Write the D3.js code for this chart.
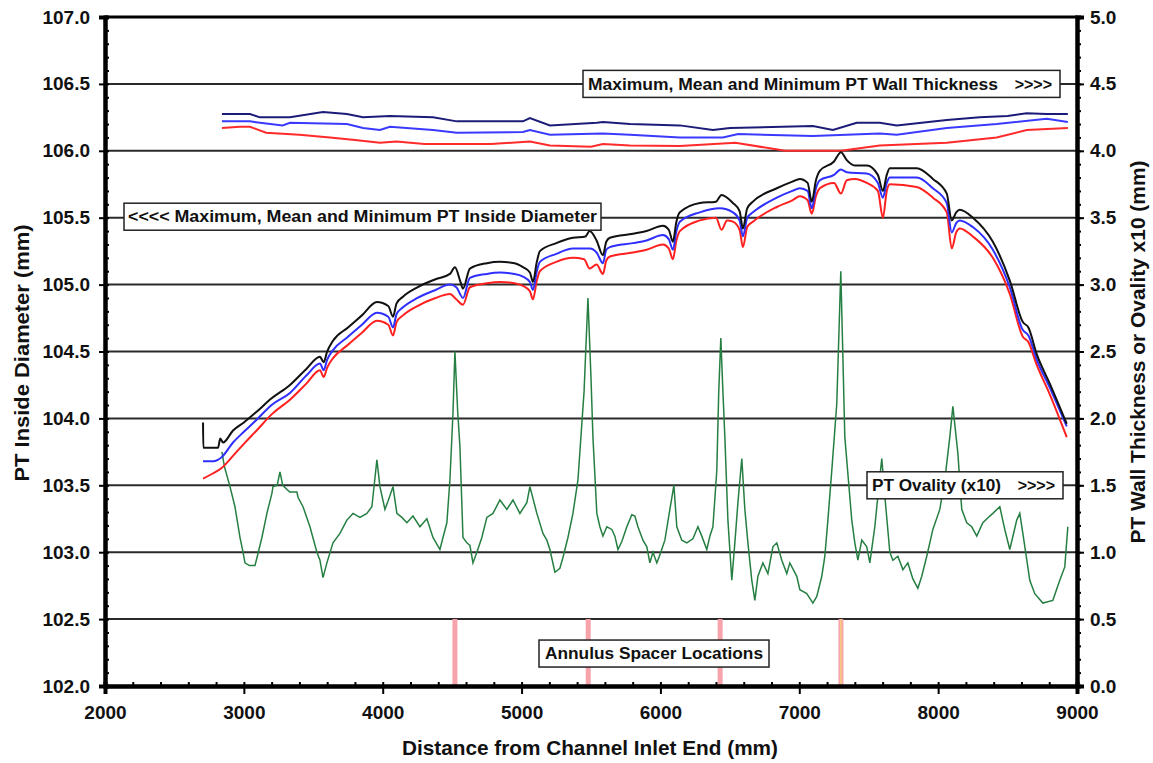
<!DOCTYPE html>
<html>
<head>
<meta charset="utf-8">
<script src="https://cdn.jsdelivr.net/npm/d3@7/dist/d3.min.js"></script>
<style>
  body { margin: 0; background: #fff; }
  svg { display: block; }
  text { font-family: "Liberation Sans", Arial, sans-serif; font-weight: bold; fill: #111; }
</style>
</head>
<body>
<svg id="chart"></svg>
<script>
// --- data (distance mm, value) ---
const xTicks = [2000, 3000, 4000, 5000, 6000, 7000, 8000, 9000];
const leftTicks = [102.0, 102.5, 103.0, 103.5, 104.0, 104.5, 105.0, 105.5, 106.0, 106.5, 107.0];
const rightTicks = [0, 0.5, 1.0, 1.5, 2.0, 2.5, 3.0, 3.5, 4.0, 4.5, 5.0];

// PT inside diameter (left axis)
const idMax = [[2706,103.97],[2708,103.78],[2814,103.78],[2830,103.85],[2850,103.82],[2922,103.91],[3000,103.97],
  [3092,104.05],[3200,104.15],[3332,104.25],[3450,104.37],[3548,104.46],[3575,104.42],[3600,104.50],[3642,104.58],
  [3750,104.68],[3850,104.77],[3958,104.87],[4040,104.84],[4074,104.76],[4100,104.86],[4146,104.91],[4250,104.98],
  [4380,105.04],[4484,105.08],[4520,105.13],[4560,105.02],[4578,104.97],[4628,105.12],[4750,105.16],[4844,105.17],
  [4950,105.16],[5010,105.13],[5060,105.09],[5082,105.02],[5110,105.17],[5132,105.25],[5250,105.31],[5370,105.35],
  [5460,105.36],[5490,105.40],[5540,105.33],[5586,105.22],[5610,105.32],[5636,105.35],[5802,105.38],[5900,105.40],
  [6018,105.44],[6060,105.41],[6090,105.32],[6115,105.47],[6140,105.54],[6284,105.61],[6400,105.62],[6440,105.67],
  [6522,105.61],[6570,105.55],[6594,105.42],[6625,105.57],[6666,105.62],[6838,105.72],[6950,105.77],[7004,105.79],
  [7060,105.76],[7090,105.62],[7120,105.78],[7148,105.85],[7250,105.92],[7300,105.99],[7342,105.93],[7400,105.89],
  [7486,105.89],[7566,105.82],[7602,105.70],[7630,105.82],[7652,105.87],[7846,105.87],[7962,105.79],[8062,105.68],
  [8098,105.48],[8130,105.54],[8156,105.56],[8250,105.50],[8394,105.32],[8516,105.03],[8610,104.72],[8650,104.68],
  [8710,104.48],[8804,104.26],[8926,103.96]];

const idMean = [[2706,103.68],[2780,103.68],[2840,103.71],[2922,103.82],[3000,103.90],[3092,103.99],[3200,104.10],
  [3332,104.19],[3450,104.32],[3548,104.41],[3575,104.36],[3600,104.44],[3642,104.51],[3750,104.61],[3850,104.70],
  [3958,104.79],[4040,104.76],[4074,104.68],[4100,104.78],[4146,104.83],[4250,104.90],[4380,104.96],[4484,105.00],
  [4530,104.98],[4578,104.90],[4628,105.05],[4750,105.08],[4844,105.09],[4950,105.08],[5010,105.06],[5060,105.02],
  [5082,104.96],[5110,105.10],[5132,105.17],[5250,105.23],[5370,105.27],[5492,105.27],[5540,105.24],[5586,105.16],
  [5610,105.26],[5636,105.28],[5802,105.31],[5900,105.33],[6018,105.37],[6060,105.34],[6090,105.26],[6115,105.40],
  [6140,105.47],[6284,105.54],[6428,105.57],[6522,105.54],[6570,105.48],[6594,105.36],[6625,105.50],[6666,105.54],
  [6838,105.65],[6950,105.70],[7004,105.72],[7060,105.70],[7090,105.57],[7120,105.72],[7148,105.78],[7250,105.82],
  [7300,105.86],[7342,105.84],[7486,105.83],[7566,105.76],[7602,105.65],[7630,105.76],[7652,105.80],[7846,105.80],
  [7962,105.72],[8062,105.61],[8098,105.39],[8130,105.46],[8156,105.48],[8250,105.43],[8394,105.26],[8516,104.98],
  [8610,104.66],[8650,104.62],[8710,104.44],[8804,104.23],[8926,103.94]];

const idMin = [[2706,103.55],[2780,103.59],[2840,103.63],[2922,103.72],[3000,103.81],[3092,103.91],[3200,104.03],
  [3332,104.14],[3450,104.26],[3548,104.36],[3575,104.31],[3600,104.38],[3642,104.45],[3750,104.55],[3850,104.64],
  [3958,104.73],[4040,104.70],[4074,104.62],[4100,104.72],[4146,104.77],[4250,104.84],[4380,104.90],[4484,104.93],
  [4530,104.89],[4578,104.85],[4628,104.98],[4750,105.01],[4844,105.02],[4950,105.01],[5010,104.99],[5060,104.95],
  [5082,104.89],[5110,105.03],[5132,105.10],[5250,105.17],[5370,105.20],[5450,105.19],[5490,105.12],[5540,105.15],
  [5586,105.08],[5610,105.18],[5636,105.21],[5802,105.24],[5900,105.26],[6018,105.30],[6060,105.27],[6090,105.19],
  [6115,105.33],[6140,105.40],[6284,105.48],[6400,105.50],[6440,105.41],[6480,105.48],[6522,105.47],[6570,105.41],
  [6594,105.28],[6625,105.43],[6666,105.47],[6838,105.58],[6950,105.63],[7004,105.66],[7060,105.63],[7090,105.53],
  [7120,105.66],[7148,105.72],[7250,105.76],[7300,105.68],[7342,105.78],[7400,105.79],[7486,105.76],[7566,105.70],
  [7602,105.50],[7630,105.70],[7652,105.75],[7846,105.73],[7962,105.65],[8062,105.54],[8098,105.27],[8130,105.39],
  [8156,105.42],[8250,105.36],[8394,105.20],[8516,104.93],[8610,104.61],[8650,104.57],[8710,104.40],[8804,104.18],
  [8926,103.86]];

// PT wall thickness (right axis)
const wtMax = [[2842,4.275],[3044,4.275],[3116,4.25],[3332,4.25],[3570,4.29],[3742,4.275],[3858,4.25],[4052,4.26],
  [4362,4.25],[4534,4.22],[5010,4.22],[5060,4.245],[5204,4.19],[5542,4.21],[5586,4.215],[5780,4.20],[6140,4.19],
  [6378,4.155],[6500,4.17],[7098,4.185],[7242,4.155],[7414,4.21],[7580,4.21],[7702,4.19],[8062,4.23],[8300,4.25],
  [8500,4.26],[8638,4.28],[8782,4.275],[8934,4.275]];
const wtMean = [[2842,4.22],[3044,4.22],[3116,4.21],[3280,4.19],[3332,4.21],[3742,4.20],[3858,4.17],[3980,4.155],
  [4052,4.18],[4362,4.155],[4534,4.135],[5010,4.14],[5060,4.155],[5204,4.12],[5586,4.13],[5780,4.12],[6140,4.10],
  [6450,4.10],[6560,4.125],[7098,4.11],[7580,4.13],[7702,4.12],[8062,4.17],[8422,4.20],[8782,4.24],[8934,4.215]];
const wtMin = [[2842,4.17],[2970,4.18],[3044,4.18],[3160,4.135],[3400,4.12],[3620,4.10],[3800,4.08],[3980,4.06],
  [4100,4.07],[4300,4.05],[4780,4.05],[5060,4.07],[5204,4.04],[5500,4.03],[5586,4.05],[5780,4.04],[6140,4.035],
  [6540,4.06],[6900,4.00],[7300,4.00],[7580,4.04],[8062,4.06],[8422,4.10],[8638,4.155],[8934,4.17]];

// PT ovality x10 (right axis)
const ovality = [[2842,1.75],[2860,1.64],[2900,1.49],[2936,1.34],[2972,1.11],[2994,1.0],[3008,0.92],[3040,0.9],
  [3080,0.9],[3102,0.99],[3130,1.11],[3166,1.29],[3202,1.44],[3210,1.49],[3240,1.5],[3260,1.6],[3280,1.5],
  [3330,1.45],[3382,1.45],[3390,1.41],[3426,1.34],[3476,1.19],[3526,1.0],[3548,0.94],[3570,0.81],[3598,0.92],
  [3642,1.07],[3692,1.14],[3742,1.24],[3786,1.29],[3836,1.26],[3886,1.29],[3922,1.34],[3958,1.69],[3980,1.49],
  [4016,1.32],[4038,1.38],[4074,1.49],[4102,1.29],[4138,1.26],[4174,1.22],[4218,1.27],[4268,1.19],[4318,1.25],
  [4362,1.11],[4412,1.02],[4434,1.11],[4462,1.22],[4484,1.54],[4506,2.04],[4520,2.50],[4540,2.05],[4556,1.79],
  [4578,1.11],[4606,1.07],[4628,1.05],[4650,0.92],[4678,1.0],[4714,1.11],[4750,1.26],[4794,1.29],[4844,1.39],
  [4894,1.32],[4938,1.39],[4988,1.29],[5038,1.37],[5060,1.49],[5110,1.29],[5154,1.14],[5182,1.09],[5204,1.02],
  [5240,0.85],[5276,0.88],[5298,0.96],[5334,1.11],[5370,1.29],[5406,1.54],[5450,2.2],[5478,2.90],[5500,2.3],
  [5514,1.86],[5542,1.29],[5564,1.19],[5586,1.12],[5614,1.19],[5650,1.17],[5672,1.12],[5694,1.02],[5722,1.08],
  [5758,1.19],[5794,1.28],[5816,1.27],[5838,1.19],[5874,1.09],[5902,1.04],[5924,0.92],[5946,1.0],[5974,0.92],
  [5996,0.98],[6032,1.09],[6068,1.32],[6097,1.50],[6118,1.19],[6154,1.09],[6190,1.07],[6234,1.10],[6270,1.19],
  [6298,1.12],[6334,1.02],[6356,1.12],[6378,1.19],[6406,1.61],[6420,2.2],[6435,2.60],[6450,2.2],[6464,1.86],
  [6486,1.24],[6514,0.79],[6536,1.07],[6558,1.37],[6586,1.70],[6608,1.32],[6630,1.07],[6658,0.79],[6680,0.64],
  [6702,0.82],[6738,0.92],[6774,0.84],[6810,1.04],[6838,1.07],[6874,0.94],[6910,0.84],[6932,0.92],[6982,0.82],
  [7004,0.72],[7054,0.69],[7098,0.62],[7126,0.67],[7162,0.82],[7184,0.97],[7206,1.24],[7234,1.61],[7270,2.11],
  [7299,3.10],[7328,1.86],[7378,1.24],[7400,1.07],[7422,0.94],[7450,1.09],[7486,1.04],[7508,0.92],[7544,1.19],
  [7566,1.42],[7594,1.70],[7616,1.42],[7652,1.0],[7674,0.94],[7710,0.97],[7746,0.87],[7782,0.92],[7818,0.80],
  [7854,0.73],[7882,0.82],[7918,0.97],[7962,1.17],[8012,1.32],[8048,1.54],[8084,1.86],[8106,2.09],[8142,1.74],
  [8170,1.32],[8206,1.22],[8242,1.19],[8278,1.12],[8322,1.22],[8372,1.27],[8394,1.29],[8444,1.34],[8480,1.17],
  [8516,1.02],[8566,1.24],[8588,1.29],[8610,1.14],[8660,0.79],[8696,0.69],[8754,0.62],[8826,0.64],[8876,0.79],
  [8912,0.89],[8934,1.19]];

// annulus spacer locations (mm)
const spacers = [4520, 5480, 6430, 7300];
const spacerCore = ['#f7a3ab', '#f7a3ab', '#f7a3ab', '#f6cf7a'];

// --- layout ---
const W = 1153, H = 763;
const margin = { top: 17, right: 76, bottom: 77, left: 105 };
const width = W - margin.left - margin.right;
const height = H - margin.top - margin.bottom;

const svg = d3.select('#chart').attr('width', W).attr('height', H);
const g = svg.append('g').attr('transform', `translate(${margin.left},${margin.top})`);

const x = d3.scaleLinear().domain([2000, 9000]).range([0, width]);
const yL = d3.scaleLinear().domain([102, 107]).range([height, 0]);
const yR = d3.scaleLinear().domain([0, 5]).range([height, 0]);

// horizontal grid lines at each major tick
g.selectAll('.grid')
  .data(leftTicks.filter(d => d > 102))
  .enter().append('line')
  .attr('x1', 0).attr('x2', width)
  .attr('y1', d => yL(d)).attr('y2', d => yL(d))
  .attr('stroke', '#2a2a2a').attr('stroke-width', 2);

// spacer markers
g.selectAll('.spacer')
  .data(spacers)
  .enter().append('rect')
  .attr('x', d => x(d) - 2.5)
  .attr('y', yL(102.5))
  .attr('width', 5)
  .attr('height', yL(102) - yL(102.5))
  .attr('fill', '#f7a3ab');
g.selectAll('.spacer-core')
  .data(spacers)
  .enter().append('rect')
  .attr('x', d => x(d) - 0.75)
  .attr('y', yL(102.5))
  .attr('width', 1.5)
  .attr('height', yL(102) - yL(102.5))
  .attr('fill', (d, i) => spacerCore[i]);

const lineL = d3.line().x(d => x(d[0])).y(d => yL(d[1])).curve(d3.curveMonotoneX);
const lineR = d3.line().x(d => x(d[0])).y(d => yR(d[1]));

// ovality first so diameters sit on top
g.append('path').datum(ovality)
  .attr('d', lineR).attr('fill', 'none')
  .attr('stroke', '#267f42').attr('stroke-width', 1.5)
  .attr('stroke-linejoin', 'miter');

[[wtMin, '#ff2a2a'], [wtMean, '#3a3aff'], [wtMax, '#1c1c78']].forEach(([data, color]) => {
  g.append('path').datum(data)
    .attr('d', lineR).attr('fill', 'none')
    .attr('stroke', color).attr('stroke-width', 2);
});

[[idMin, '#ff2020'], [idMean, '#2f2fff'], [idMax, '#111']].forEach(([data, color]) => {
  g.append('path').datum(data)
    .attr('d', lineL).attr('fill', 'none')
    .attr('stroke', color).attr('stroke-width', 2)
    .attr('stroke-linejoin', 'round');
});

// annotation boxes
const boxes = [
  { text: 'Maximum, Mean and Minimum PT Wall Thickness', tail: '>>>>', x: 478, y: yL(106.5), w: 477, len: 410 },
  { text: '<<<<  Maximum, Mean and Minimum PT Inside Diameter', tail: '', x: 19, y: yL(105.5) - 1, w: 477, len: 469 },
  { text: 'PT Ovality (x10)', tail: '>>>>', x: 762, y: yR(1.5), w: 196, len: 129 },
  { text: 'Annulus Spacer Locations', tail: '', x: 434, y: yL(102.25) + 1, w: 230, len: 218 }
];
boxes.forEach(b => {
  const bg = g.append('g').attr('transform', `translate(${b.x},${b.y})`);
  bg.append('rect')
    .attr('x', 0).attr('y', -13.5).attr('width', b.w).attr('height', 27)
    .attr('fill', '#fff').attr('stroke', '#222').attr('stroke-width', 1.5);
  const pad = b.tail ? 5 : (b.w - b.len) / 2;
  bg.append('text')
    .attr('x', pad).attr('y', 0).attr('dy', '0.36em')
    .attr('textLength', b.len).attr('lengthAdjust', 'spacingAndGlyphs')
    .style('font-size', '16px')
    .text(b.text);
  if (b.tail) {
    bg.append('text')
      .attr('x', b.w - 8).attr('y', 0).attr('dy', '0.36em')
      .attr('text-anchor', 'end')
      .style('font-size', '16px')
      .text(b.tail);
  }
});

// axes
const fmt = d3.format('.1f');
const styleAxis = sel => {
  sel.select('.domain').attr('stroke', '#000').attr('stroke-width', 4);
  sel.selectAll('.tick line').attr('stroke', '#000').attr('stroke-width', 2);
  sel.selectAll('.tick text').style('font-size', '19px').attr('fill', '#111');
};

g.append('g')
  .call(d3.axisLeft(yL).tickValues(d3.range(102, 107.001, 0.1)).tickSize(-4).tickFormat(''))
  .call(styleAxis);
g.append('g')
  .call(d3.axisLeft(yL).tickValues(leftTicks).tickSize(6).tickPadding(9).tickFormat(fmt))
  .call(styleAxis);

g.append('g').attr('transform', `translate(${width},0)`)
  .call(d3.axisRight(yR).tickValues(d3.range(0, 5.001, 0.1)).tickSize(4).tickFormat(''))
  .call(styleAxis);
g.append('g').attr('transform', `translate(${width},0)`)
  .call(d3.axisRight(yR).tickValues(rightTicks).tickSize(7).tickPadding(6).tickFormat(fmt))
  .call(styleAxis);

g.append('g').attr('transform', `translate(0,${height})`)
  .call(d3.axisBottom(x).tickValues(d3.range(2000, 9001, 200)).tickSize(-4).tickFormat(''))
  .call(styleAxis);
g.append('g').attr('transform', `translate(0,${height})`)
  .call(d3.axisBottom(x).tickValues(xTicks).tickSize(8).tickPadding(12).tickFormat(d3.format('d')))
  .call(styleAxis);

// top frame
g.append('line')
  .attr('x1', 0).attr('x2', width).attr('y1', 0).attr('y2', 0)
  .attr('stroke', '#000').attr('stroke-width', 3);

// axis titles
svg.append('text')
  .attr('transform', 'translate(29,353) rotate(-90)')
  .attr('text-anchor', 'middle')
  .attr('textLength', 257).attr('lengthAdjust', 'spacingAndGlyphs')
  .style('font-size', '20px')
  .text('PT Inside Diameter (mm)');

svg.append('text')
  .attr('transform', 'translate(1145,352) rotate(-90)')
  .attr('text-anchor', 'middle')
  .attr('textLength', 383).attr('lengthAdjust', 'spacingAndGlyphs')
  .style('font-size', '20px')
  .text('PT Wall Thickness or Ovality x10 (mm)');

svg.append('text')
  .attr('x', 590).attr('y', 755)
  .attr('text-anchor', 'middle')
  .attr('textLength', 376).attr('lengthAdjust', 'spacingAndGlyphs')
  .style('font-size', '21px')
  .text('Distance from Channel Inlet End (mm)');
</script>
</body>
</html>
